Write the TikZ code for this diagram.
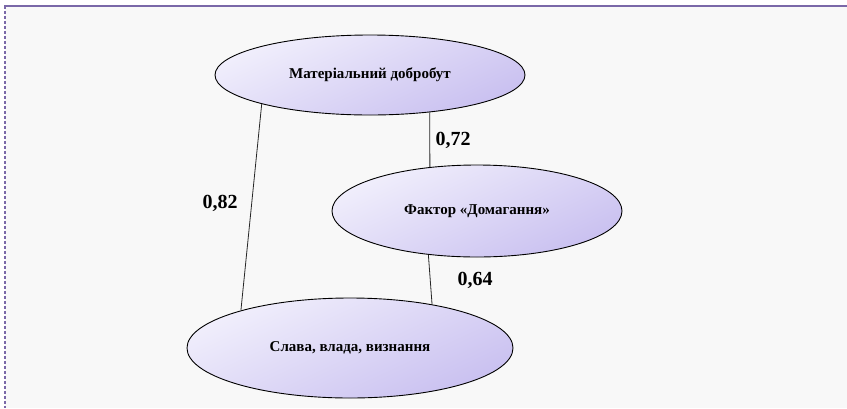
\documentclass[tikz,border=0pt]{standalone}
\usepackage{fontspec}
\setmainfont{Liberation Serif}
\usetikzlibrary{shapes.geometric}
\definecolor{framec}{HTML}{7A68A8}
\definecolor{bgc}{HTML}{F8F8F8}
\definecolor{elA}{HTML}{F1EFFC}
\definecolor{elB}{HTML}{C9C0F0}
\tikzset{
  oval/.style={ellipse, draw=black, line width=0.9pt, inner sep=0pt,
    top color=elA, bottom color=elB, shading angle=25,
    font=\fontsize{15}{17}\selectfont\bfseries},
  link/.style={draw=black!85, line width=0.8pt},
  val/.style={font=\fontsize{20}{22}\selectfont\bfseries, inner sep=0pt}
}
\begin{document}
\begin{tikzpicture}[x=1pt,y=-1pt]
\useasboundingbox (0,0) rectangle (847,408);
\fill[white] (0,0) rectangle (847,408);
\fill[bgc] (5,6) rectangle (847,408);
\draw[framec, line width=2pt] (4,6) -- (847,6);
\draw[framec, line width=1.5pt, dash pattern=on 3pt off 2pt] (5,6) -- (5,408);

\node[oval, minimum width=310pt, minimum height=80pt] (m) at (370,75) {Матеріальний добробут};
\node[oval, minimum width=290pt, minimum height=92pt] (f) at (477,211) {Фактор «Домагання»};
\node[oval, minimum width=326pt, minimum height=100pt] (s) at (350,348) {Слава, влада, визнання};

\draw[link] (m.195.5) -- (s.161.4);
\draw[link] (m.328.4) -- (f.137.2);
\draw[link] (f.222.8) -- (s.28.6);

\node[val] (v1) at (220,203) {0,82};
\node[val] (v2) at (453,140) {0,72};
\node[val] (v3) at (475,280) {0,64};
\end{tikzpicture}
\end{document}
